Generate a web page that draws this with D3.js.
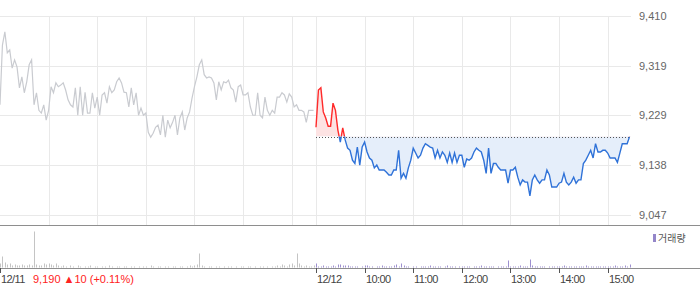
<!DOCTYPE html>
<html>
<head>
<meta charset="utf-8">
<script src="https://cdn.jsdelivr.net/npm/d3@7"></script>
<style>
  body { margin: 0; background: #fff; }
  svg text { font-family: "Liberation Sans", Arial, sans-serif; }
  .axis-label { font-size: 11px; fill: #666; }
  .time-label { font-size: 11px; fill: #444; letter-spacing: -0.6px; }
  .legend-text { font-family: "Noto Sans CJK KR", sans-serif; font-size: 10px; fill: #555; }
</style>
</head>
<body>
<div id="chart"></div>
<script>
// price every 3 minutes, 09:00 - 15:30
var day1Price = [
  9248, 9357, 9381, 9343, 9348, 9315, 9330, 9317, 9279, 9299,
  9270, 9290, 9321, 9330, 9248, 9270, 9238, 9233, 9248, 9220,
  9238, 9281, 9270, 9288, 9281, 9284, 9288, 9275, 9257, 9248,
  9244, 9279, 9229, 9281, 9229, 9271, 9233, 9233, 9270, 9242,
  9262, 9229, 9266, 9270, 9251, 9281, 9270, 9275, 9290, 9297,
  9288, 9271, 9270, 9244, 9279, 9248, 9270, 9229, 9242, 9229,
  9233, 9198, 9189, 9196, 9207, 9211, 9193, 9229, 9189, 9220,
  9206, 9216, 9229, 9193, 9224, 9235, 9202, 9224, 9235, 9260,
  9281, 9299, 9321, 9330, 9303, 9297, 9299, 9297, 9288, 9257,
  9290, 9275, 9290, 9288, 9293, 9279, 9275, 9253, 9281, 9284,
  9266, 9266, 9270, 9244, 9229, 9229, 9270, 9229, 9224, 9262,
  9238, 9229, 9238, 9233, 9262, 9262, 9270, 9266, 9253, 9268,
  9262, 9244, 9248, 9238, 9238, 9235, 9216, 9238, 9238, 9238
];
var day2Price = [
  9207, 9275, 9279, 9235, 9224, 9209, 9209, 9251, 9238, 9202,
  9180, 9206, 9184, 9169, 9165, 9147, 9141, 9171, 9138, 9171,
  9180, 9162, 9151, 9147, 9133, 9138, 9129, 9129, 9129, 9125,
  9120, 9120, 9129, 9129, 9165, 9114, 9123, 9114, 9133, 9147,
  9169, 9160, 9151, 9156, 9169, 9177, 9174, 9171, 9169, 9151,
  9165, 9151, 9162, 9156, 9143, 9160, 9143, 9160, 9143, 9156,
  9156, 9134, 9149, 9147, 9151, 9162, 9169, 9165, 9162, 9147,
  9123, 9169, 9123, 9141, 9141, 9134, 9129, 9129, 9129, 9105,
  9129, 9129, 9134, 9116, 9102, 9111, 9107, 9107, 9082, 9111,
  9120, 9111, 9105, 9111, 9111, 9129, 9120, 9098, 9098, 9098,
  9105, 9107, 9123, 9107, 9102, 9107, 9116, 9105, 9111, 9111,
  9141, 9147, 9156, 9165, 9151, 9177, 9162, 9162, 9165, 9165,
  9160, 9151, 9151, 9151, 9143, 9160, 9177, 9177, 9177, 9190
];
var day1Vol = [
  4, 11, 5, 3, 4, 2, 3, 2, 2, 3,
  2, 2, 3, 2, 36, 3, 2, 2, 4, 3,
  4, 3, 2, 4, 2, 1, 2, 1, 0, 2,
  1, 0, 2, 1, 0, 1, 1, 2, 0, 1,
  1, 0, 1, 1, 0, 2, 1, 0, 1, 1,
  0, 1, 1, 0, 1, 1, 0, 1, 0, 1,
  1, 0, 2, 1, 0, 1, 1, 0, 1, 1,
  0, 1, 1, 0, 1, 1, 0, 1, 2, 1,
  2, 3, 14, 2, 1, 0, 1, 1, 0, 1,
  1, 0, 1, 0, 1, 1, 0, 1, 0, 1,
  1, 0, 1, 1, 0, 1, 0, 1, 1, 0,
  1, 0, 1, 1, 2, 1, 3, 2, 1, 3,
  4, 2, 14, 4, 2, 1, 2, 1, 1, 2
];
var day2Vol = [
  4, 1, 1, 2, 1, 1, 1, 2, 1, 3,
  3, 2, 2, 2, 1, 1, 1, 1, 0, 1,
  2, 2, 1, 1, 0, 1, 1, 2, 1, 1,
  1, 1, 2, 3, 1, 4, 2, 1, 1, 0,
  1, 1, 0, 1, 1, 1, 1, 2, 1, 1,
  1, 1, 0, 1, 2, 1, 1, 1, 0, 1,
  1, 1, 1, 1, 0, 1, 1, 1, 2, 1,
  1, 1, 1, 1, 0, 1, 1, 1, 1, 7,
  1, 1, 1, 1, 2, 1, 1, 1, 8, 2,
  1, 1, 1, 1, 1, 0, 1, 1, 1, 1,
  1, 1, 2, 1, 1, 1, 1, 1, 1, 1,
  1, 2, 1, 1, 1, 1, 1, 1, 1, 1,
  1, 1, 1, 2, 1, 1, 1, 2, 1, 3
];
var priceTicks = [9410, 9319, 9229, 9138, 9047];
var priceTickLabels = ["9,410", "9,319", "9,229", "9,138", "9,047"];
var gridMinutes = [60, 120, 180, 240, 300, 360, 390, 450, 510, 570, 630, 690, 750];
var labelMinutes = [0, 390, 450, 510, 570, 630, 690, 750];
var labelTexts = ["12/11", "12/12", "10:00", "11:00", "12:00", "13:00", "14:00", "15:00"];
var baseClose = 9190;
var lastInfo = "9,190 \u25B210 (+0.11%)";
var stepMin = 3, dayMin = 390;

var width = 700, height = 289;
var plotRight = 631;

var svg = d3.select("#chart").append("svg")
  .attr("width", width)
  .attr("height", height);

var x = d3.scaleLinear().domain([0, dayMin * 2]).range([0, plotRight + 1]);
var y = d3.scaleLinear().domain([9047, 9410]).range([215, 16]);
var yVol = d3.scaleLinear().domain([0, 36]).range([267.5, 231.5]);

var pts1 = day1Price.map(function(p, i) { return {t: i * stepMin, v: p}; });
var pts2 = day2Price.map(function(p, i) { return {t: dayMin + i * stepMin, v: p}; });

// grid
svg.append("g").selectAll("line").data(priceTicks).enter().append("line")
  .attr("x1", 0).attr("x2", plotRight)
  .attr("y1", function(d) { return Math.round(y(d)) + 0.5; })
  .attr("y2", function(d) { return Math.round(y(d)) + 0.5; })
  .attr("stroke", "#e9e9e9");

svg.append("g").selectAll("line").data(gridMinutes).enter().append("line")
  .attr("x1", function(d) { return Math.round(x(d)) + 0.5; })
  .attr("x2", function(d) { return Math.round(x(d)) + 0.5; })
  .attr("y1", 16).attr("y2", 225)
  .attr("stroke", "#e9e9e9");

// right price labels
svg.append("g").selectAll("text").data(priceTicks).enter().append("text")
  .attr("class", "axis-label")
  .attr("x", 639)
  .attr("y", function(d) { return y(d) + 4; })
  .text(function(d, i) { return priceTickLabels[i]; });

// day 1 line (grey)
var line = d3.line()
  .x(function(d) { return x(d.t); })
  .y(function(d) { return y(d.v); });

svg.append("path")
  .datum(pts1)
  .attr("d", line)
  .attr("fill", "none")
  .attr("stroke", "#c9cbd0")
  .attr("stroke-width", 1.2);

// day 2: red above base, blue below
var yBase = y(baseClose);
var defs = svg.append("defs");
defs.append("clipPath").attr("id", "clip-up").append("rect")
  .attr("x", 0).attr("y", 0).attr("width", width).attr("height", yBase);
defs.append("clipPath").attr("id", "clip-down").append("rect")
  .attr("x", 0).attr("y", yBase).attr("width", width).attr("height", height - yBase);

var area = d3.area()
  .x(function(d) { return x(d.t); })
  .y0(yBase)
  .y1(function(d) { return y(d.v); });

svg.append("path").datum(pts2).attr("d", area)
  .attr("clip-path", "url(#clip-up)").attr("fill", "#fde3e3");
svg.append("path").datum(pts2).attr("d", area)
  .attr("clip-path", "url(#clip-down)").attr("fill", "#e5eefa");

svg.append("line")
  .attr("x1", x(dayMin)).attr("x2", plotRight)
  .attr("y1", Math.round(yBase) + 0.5).attr("y2", Math.round(yBase) + 0.5)
  .attr("stroke", "#555")
  .attr("stroke-dasharray", "1,2");

svg.append("path").datum(pts2).attr("d", line)
  .attr("clip-path", "url(#clip-up)")
  .attr("fill", "none").attr("stroke", "#ff2a2a").attr("stroke-width", 1.4);
svg.append("path").datum(pts2).attr("d", line)
  .attr("clip-path", "url(#clip-down)")
  .attr("fill", "none").attr("stroke", "#2f72d8").attr("stroke-width", 1.4);

// panel separators
svg.append("line").attr("x1", 0).attr("x2", width).attr("y1", 225.5).attr("y2", 225.5)
  .attr("stroke", "#8e8e8e");
svg.append("line").attr("x1", 0).attr("x2", width).attr("y1", 268.5).attr("y2", 268.5)
  .attr("stroke", "#8e8e8e");

// volume
svg.append("g").selectAll("rect").data(day1Vol).enter().append("rect")
  .attr("x", function(d, i) { return Math.round(x(i * stepMin)); })
  .attr("y", function(d) { return yVol(d); })
  .attr("width", 1)
  .attr("height", function(d) { return yVol(0) - yVol(d); })
  .attr("fill", "#c4c4c4");

svg.append("g").selectAll("rect").data(day2Vol).enter().append("rect")
  .attr("x", function(d, i) { return Math.round(x(dayMin + i * stepMin)); })
  .attr("y", function(d) { return yVol(d); })
  .attr("width", 1)
  .attr("height", function(d) { return yVol(0) - yVol(d); })
  .attr("fill", "#9d90d0");

// legend
svg.append("rect").attr("x", 653).attr("y", 234).attr("width", 3).attr("height", 8)
  .attr("fill", "#9486c9");
svg.append("text").attr("class", "legend-text")
  .attr("x", 658).attr("y", 242)
  .text("거래량");

// bottom time axis
svg.append("g").selectAll("line").data(labelMinutes).enter().append("line")
  .attr("x1", function(d) { return Math.round(x(d)) + 0.5; })
  .attr("x2", function(d) { return Math.round(x(d)) + 0.5; })
  .attr("y1", 268).attr("y2", 273)
  .attr("stroke", "#555");

svg.append("g").selectAll("text").data(labelMinutes).enter().append("text")
  .attr("class", "time-label")
  .attr("x", function(d) { return Math.round(x(d)) + 1; })
  .attr("y", 283)
  .text(function(d, i) { return labelTexts[i]; });

svg.append("text")
  .attr("x", 33).attr("y", 283)
  .attr("font-size", "11px")
  .attr("fill", "#f22")
  .text(lastInfo);
</script>
</body>
</html>
